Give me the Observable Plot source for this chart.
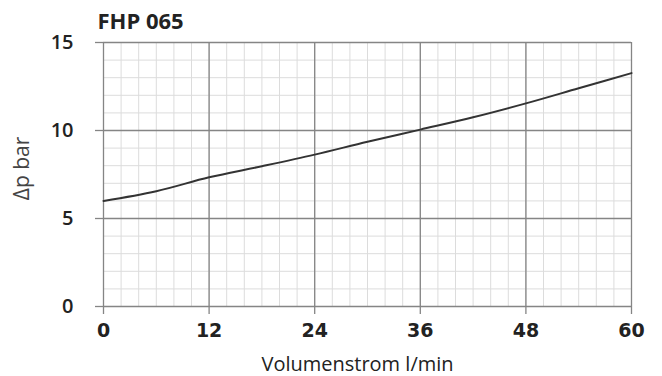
<!DOCTYPE html>
<html>
<head>
<meta charset="utf-8">
<script src="https://cdn.jsdelivr.net/npm/d3@7"></script>
<script src="https://cdn.jsdelivr.net/npm/@observablehq/plot@0.6"></script>
<style>
  html, body { margin: 0; padding: 0; background: #fff; }
  #chart { width: 662px; height: 376px; }
</style>
</head>
<body>
<div id="chart"></div>
<script>
const flow = [0, 6, 12, 18, 24, 30, 36, 42, 48, 54, 60];
const dp = [6.0, 6.55, 7.34, 7.97, 8.63, 9.36, 10.05, 10.75, 11.54, 12.4, 13.26];
const xTicks = [0, 12, 24, 36, 48, 60];
const yTicks = [0, 5, 10, 15];
const xMinor = d3.range(0, 61, 2);
const yMinor = d3.range(0, 16, 1);
const title = "FHP 065";
const xLabel = "Volumenstrom l/min";
const yLabel = "Δp bar";

const data = flow.map((f, i) => ({f, p: dp[i]}));

const chart = Plot.plot({
  width: 662,
  height: 376,
  marginLeft: 103,
  marginRight: 31,
  marginTop: 42,
  marginBottom: 70,
  x: {domain: [0, 60]},
  y: {domain: [0, 15]},
  style: {background: "#fff", color: "#222"},
  marks: [
    Plot.gridX(xMinor, {stroke: "#dcdcdc", strokeOpacity: 1, strokeWidth: 1}),
    Plot.gridY(yMinor, {stroke: "#dcdcdc", strokeOpacity: 1, strokeWidth: 1}),
    Plot.gridX(xTicks, {stroke: "#858585", strokeOpacity: 1, strokeWidth: 1.3}),
    Plot.gridY(yTicks, {stroke: "#858585", strokeOpacity: 1, strokeWidth: 1.3}),
    Plot.axisX(xTicks, {
      tickSize: 8, tickPadding: 9, stroke: "#858585", strokeWidth: 1.3,
      fontSize: 19, fontWeight: 700, fontFamily: "DejaVu Sans", fill: "#222",
      label: null
    }),
    Plot.axisY(yTicks, {
      tickSize: 8, tickPadding: 22, stroke: "#858585", strokeWidth: 1.3,
      fontSize: 20, fontWeight: 600, fontFamily: "Open Sans", fill: "#222",
      label: null
    }),
    Plot.line(data, {x: "f", y: "p", stroke: "#333", strokeWidth: 2, curve: "monotone-x"}),
    Plot.text([title], {
      frameAnchor: "top-left", textAnchor: "start", lineAnchor: "bottom",
      dx: -6, dy: -14, fontSize: 22, fontWeight: 700, fontFamily: "Open Sans", fill: "#222"
    }),
    Plot.text([xLabel], {
      frameAnchor: "bottom", lineAnchor: "middle", dx: -10, dy: 58,
      fontSize: 20, fontFamily: "Open Sans", fill: "#222"
    }),
    Plot.text([yLabel], {
      frameAnchor: "left", rotate: -90, textAnchor: "middle", lineAnchor: "middle", dx: -81, dy: -6,
      fontSize: 21, fontFamily: "Open Sans", fill: "#444"
    })
  ]
});
document.getElementById("chart").appendChild(chart);
</script>
</body>
</html>
